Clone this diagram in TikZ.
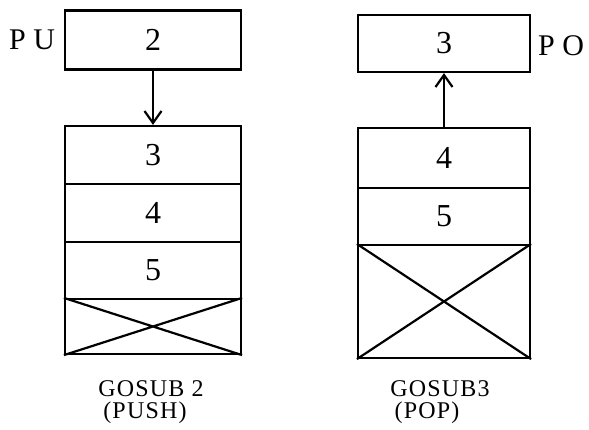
\documentclass[tikz,border=0pt]{standalone}
\usepackage{fontspec}
\setmainfont{Liberation Serif}
\newfontfamily\capfont[LetterSpace=5]{Liberation Serif}
\usetikzlibrary{arrows.meta}
\begin{document}
\begin{tikzpicture}[x=1pt,y=-1pt,
  cell/.style={draw, line width=2.2pt, minimum width=176pt, inner sep=0pt, font=\fontsize{32}{34}\selectfont},
  tag/.style={font=\fontsize{30}{32}\selectfont, inner sep=0pt},
  caption/.style={font=\capfont\fontsize{24}{26}\selectfont, inner sep=0pt, anchor=base},
  xline/.style={line width=2.2pt},
  flow/.style={line width=2.2pt, -{Straight Barb[length=12pt,width=17pt,line width=2.2pt]}}]
\useasboundingbox (0,0) rectangle (589,429);
% left: PUSH
\node[cell, minimum height=59pt] (ltop) at (153,40) {2};
\node[cell, minimum height=58pt] (l3) at (153,155) {3};
\node[cell, minimum height=58pt] (l4) at (153,213) {4};
\node[cell, minimum height=57pt] (l5) at (153,270.5) {5};
\node[cell, minimum height=55pt] (lx) at (153,326.5) {};
\draw[xline] (lx.north west) -- (lx.south east) (lx.south west) -- (lx.north east);
\draw[flow] (ltop.south) -- (l3.north);
\node[tag] (pu) at (32,40) {P U};
\node[caption] (g2) at (151,396) {GOSUB 2};
\node[caption] (push) at (145,418) {(PUSH)};
% right: POP
\node[cell, minimum height=57pt, minimum width=172pt] (rtop) at (444,43.5) {3};
\node[cell, minimum height=60pt, minimum width=172pt] (r4) at (444,158) {4};
\node[cell, minimum height=57pt, minimum width=172pt] (r5) at (444,216.5) {5};
\node[cell, minimum height=113pt, minimum width=172pt] (rx) at (444,301.5) {};
\draw[xline] (rx.north west) -- (rx.south east) (rx.south west) -- (rx.north east);
\draw[flow] (r4.north) -- (rtop.south);
\node[tag] (po) at (561,46) {P O};
\node[caption] (g3) at (440,396) {GOSUB3};
\node[caption] (pop) at (427,418) {(POP)};
\end{tikzpicture}
\end{document}
